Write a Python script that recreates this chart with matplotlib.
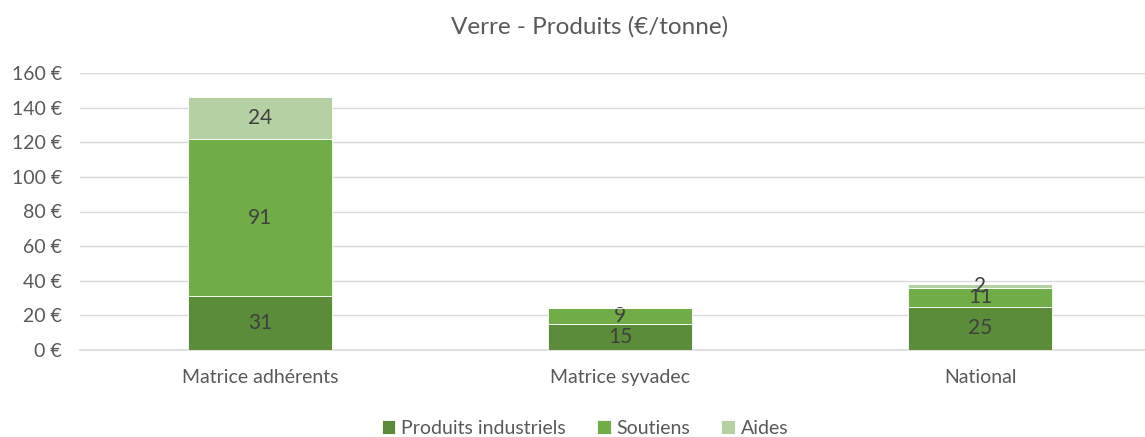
import matplotlib
matplotlib.use("Agg")
import matplotlib.pyplot as plt
import numpy as np

categories = ["Matrice adhérents", "Matrice syvadec", "National"]
produits_industriels = [31, 15, 25]
soutiens = [91, 9, 11]
aides = [24, 0, 2]
series_names = ["Produits industriels", "Soutiens", "Aides"]
colors = ["#5B8C39", "#70AD47", "#B5D0A3"]
yticks = [0, 20, 40, 60, 80, 100, 120, 140, 160]

plt.rcParams['font.family'] = ['Lato', 'DejaVu Sans']

fig = plt.figure(figsize=(11.45, 4.37), dpi=100)
ax = fig.add_axes([80/1145, 1 - 350/437, 1 - 80/1145, 277/437])

x = np.arange(len(categories))
width = 0.4
bottom = np.zeros(len(categories))
for name, vals, col in zip(series_names, [produits_industriels, soutiens, aides], colors):
    vals = np.array(vals, dtype=float)
    bars = ax.bar(x, vals, width, bottom=bottom, color=col, label=name,
                  edgecolor="white", linewidth=0.6, zorder=3)
    labels = [f"{v:g}" if v > 0 else "" for v in vals]
    ax.bar_label(bars, labels=labels, label_type="center", color="#404040", fontsize=15)
    bottom += vals

ax.set_xlim(-0.5, -0.5 + 1065/360)
ax.set_ylim(0, 160)
ax.set_yticks(yticks)
ax.set_yticklabels([f"{v} €" for v in yticks], color="#595959", fontsize=14)
ax.set_xticks(x)
ax.set_xticklabels(categories, color="#595959", fontsize=14)
ax.tick_params(axis="y", length=0, pad=13)
ax.tick_params(axis="x", length=0, pad=14)
ax.grid(axis="y", color="#D9D9D9", linewidth=1, zorder=0)
for s in ["top", "right", "left"]:
    ax.spines[s].set_visible(False)
ax.spines["bottom"].set_color("#D9D9D9")
ax.spines["bottom"].set_linewidth(1.2)

fig.text(590/1145, 1 - 27/437, "Verre - Produits (€/tonne)", ha="center", va="center",
         fontsize=17.5, color="#595959")

handles, labels = ax.get_legend_handles_labels()
fig.legend(handles, labels, loc="center", bbox_to_anchor=(585/1145, 1 - 428/437), ncol=3,
           frameon=False, fontsize=14, labelcolor="#595959", handlelength=0.7,
           handleheight=0.7, handletextpad=0.3, columnspacing=1.6)

fig.savefig("out.png", dpi=100)
